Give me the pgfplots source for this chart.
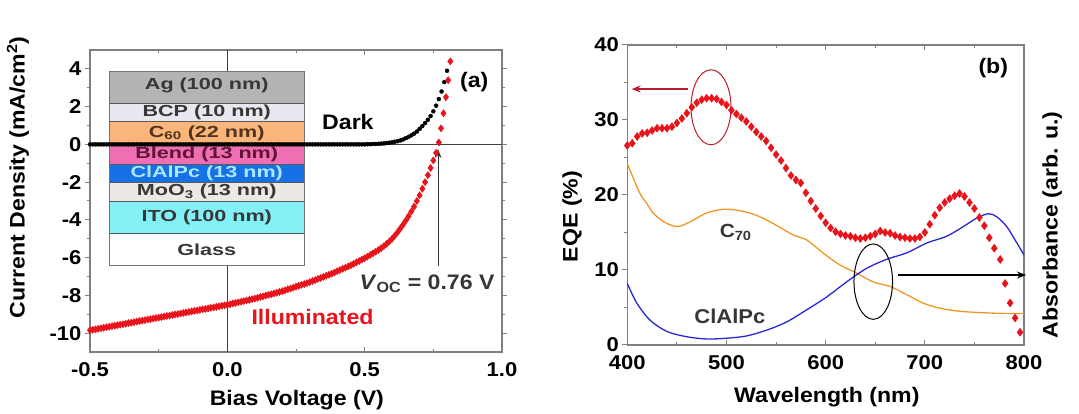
\documentclass[border=0pt]{standalone}
\usepackage{fontspec}
\setmainfont{Liberation Sans}[UprightFont=* Bold, ItalicFont=* Bold Italic, FakeStretch=1.1]
\newfontfamily\insetfont{Liberation Sans}[UprightFont=* Bold, FakeStretch=1.35]
\usepackage{pgfplots}
\pgfplotsset{compat=1.18}
\usetikzlibrary{arrows.meta}
\definecolor{axgray}{RGB}{128,128,128}
\definecolor{eqered}{RGB}{232,20,28}
\definecolor{c70}{RGB}{240,150,40}
\definecolor{clblue}{RGB}{40,40,210}
\definecolor{ellred}{RGB}{185,30,45}
\definecolor{agc}{RGB}{180,180,180}
\definecolor{bcpc}{RGB}{232,233,240}
\definecolor{c60c}{RGB}{250,182,122}
\definecolor{blendc}{RGB}{240,110,178}
\definecolor{pcc}{RGB}{22,112,230}
\definecolor{pctext}{RGB}{170,232,255}
\definecolor{mooc}{RGB}{236,233,229}
\definecolor{itoc}{RGB}{130,240,245}
\definecolor{txtgray}{RGB}{55,55,55}
\definecolor{c60txt}{RGB}{80,50,30}
\definecolor{blendtxt}{RGB}{95,20,55}
\pgfplotsset{myax/.style={scale only axis, clip=false,
  axis line style={draw=axgray, line width=1.5pt},
  tick style={draw=axgray, line width=1pt},
  major tick length=5pt, minor tick length=3pt,
  tick label style={font=\fontsize{20}{23}\selectfont, text=black},
  label style={font=\fontsize{21}{25}\selectfont},
  /pgf/number format/assume math mode=true,
  minor tick num=1}}
\begin{document}
\begin{tikzpicture}[x=1pt,y=1pt]
\useasboundingbox (0,0) rectangle (1079,414);
% ---------------- panel (a)
\begin{axis}[myax, at={(90pt,62pt)}, anchor=south west, width=412pt, height=302pt,
  xmin=-0.5, xmax=1.0, ymin=-11, ymax=5,
  xtick={-0.5,0,0.5,1.0}, ytick={-10,-8,-6,-4,-2,0,2,4},
  xticklabel style={yshift=-7pt, /pgf/number format/.cd, fixed, fixed zerofill, precision=1},
  xtick align=inside, ytick align=outside,
  xlabel={Bias Voltage (V)}, ylabel={Current Density (mA/cm\textsuperscript{2})},
  xlabel style={at={(axis description cs:0.502,-0.16)}, anchor=center},
  ylabel style={at={(axis description cs:-0.175,0.578)}, anchor=center, rotate=0}]
\draw[black!75, line width=0.9pt] (axis cs:-0.5,0) -- (axis cs:1.0,0);
\draw[black!75, line width=0.9pt] (axis cs:0,-11) -- (axis cs:0,5);
\addplot[only marks, mark=*, mark size=2pt, black] coordinates {
(-0.50,0)(-0.49,0)(-0.48,0)(-0.47,0)(-0.46,0)(-0.45,0)(-0.44,0)(-0.43,0)(-0.42,0)(-0.41,0)
(-0.40,0)(-0.39,0)(-0.38,0)(-0.37,0)(-0.36,0)(-0.35,0)(-0.34,0)(-0.33,0)(-0.32,0)(-0.31,0)
(-0.30,0)(-0.29,0)(-0.28,0)(-0.27,0)(-0.26,0)(-0.25,0)(-0.24,0)(-0.23,0)(-0.22,0)(-0.21,0)
(-0.20,0)(-0.19,0)(-0.18,0)(-0.17,0)(-0.16,0)(-0.15,0)(-0.14,0)(-0.13,0)(-0.12,0)(-0.11,0)
(-0.10,0)(-0.09,0)(-0.08,0)(-0.07,0)(-0.06,0)(-0.05,0)(-0.04,0)(-0.03,0)(-0.02,0)(-0.01,0)
(0.00,0)(0.01,0)(0.02,0)(0.03,0)(0.04,0)(0.05,0)(0.06,0)(0.07,0)(0.08,0)(0.09,0)
(0.10,0)(0.11,0)(0.12,0)(0.13,0)(0.14,0)(0.15,0)(0.16,0)(0.17,0)(0.18,0)(0.19,0)
(0.20,0)(0.21,0)(0.22,0)(0.23,0)(0.24,0)(0.25,0)(0.26,0)(0.27,0)(0.28,0)(0.29,0)
(0.30,0)(0.31,0)(0.32,0)(0.33,0)(0.34,0)(0.35,0)(0.36,0)(0.37,0)(0.38,0)(0.39,0)
(0.40,0)(0.41,0)(0.42,0)(0.43,0)(0.44,0)(0.45,0)(0.46,0)(0.47,0)(0.48,0)(0.49,0)
(0.50,0)(0.51,0.01)(0.52,0.01)(0.53,0.02)(0.54,0.02)(0.55,0.03)(0.56,0.04)(0.57,0.05)(0.58,0.07)(0.59,0.09)
(0.60,0.11)(0.61,0.14)(0.62,0.17)(0.63,0.21)(0.64,0.26)(0.65,0.33)(0.66,0.40)(0.67,0.48)(0.68,0.57)(0.69,0.68)
(0.70,0.82)(0.71,0.97)(0.72,1.13)(0.73,1.30)(0.74,1.50)(0.75,1.75)(0.76,2.05)(0.77,2.40)(0.78,2.80)(0.79,3.30)
(0.80,3.90)};
\addplot[only marks, mark=diamond*, mark size=3.6pt, eqered] coordinates {
(-0.50,-9.85)(-0.49,-9.82)(-0.48,-9.80)(-0.47,-9.77)(-0.46,-9.74)(-0.45,-9.72)(-0.44,-9.69)(-0.43,-9.66)(-0.42,-9.63)(-0.41,-9.61)
(-0.40,-9.58)(-0.39,-9.55)(-0.38,-9.53)(-0.37,-9.50)(-0.36,-9.47)(-0.35,-9.45)(-0.34,-9.42)(-0.33,-9.39)(-0.32,-9.36)(-0.31,-9.34)
(-0.30,-9.31)(-0.29,-9.28)(-0.28,-9.26)(-0.27,-9.23)(-0.26,-9.20)(-0.25,-9.18)(-0.24,-9.15)(-0.23,-9.12)(-0.22,-9.09)(-0.21,-9.07)
(-0.20,-9.04)(-0.19,-9.01)(-0.18,-8.99)(-0.17,-8.96)(-0.16,-8.93)(-0.15,-8.91)(-0.14,-8.88)(-0.13,-8.85)(-0.12,-8.82)(-0.11,-8.80)
(-0.10,-8.77)(-0.09,-8.74)(-0.08,-8.72)(-0.07,-8.69)(-0.06,-8.66)(-0.05,-8.64)(-0.04,-8.61)(-0.03,-8.58)(-0.02,-8.55)(-0.01,-8.53)
(0.00,-8.50)(0.01,-8.47)(0.02,-8.43)(0.03,-8.40)(0.04,-8.37)(0.05,-8.34)(0.06,-8.30)(0.07,-8.27)(0.08,-8.24)(0.09,-8.20)
(0.10,-8.17)(0.11,-8.13)(0.12,-8.09)(0.13,-8.05)(0.14,-8.01)(0.15,-7.97)(0.16,-7.94)(0.17,-7.90)(0.18,-7.86)(0.19,-7.82)
(0.20,-7.78)(0.21,-7.73)(0.22,-7.68)(0.23,-7.64)(0.24,-7.59)(0.25,-7.54)(0.26,-7.49)(0.27,-7.44)(0.28,-7.40)(0.29,-7.35)
(0.30,-7.30)(0.31,-7.24)(0.32,-7.19)(0.33,-7.13)(0.34,-7.08)(0.35,-7.02)(0.36,-6.96)(0.37,-6.91)(0.38,-6.85)(0.39,-6.79)
(0.40,-6.72)(0.41,-6.66)(0.42,-6.59)(0.43,-6.53)(0.44,-6.47)(0.45,-6.40)(0.46,-6.33)(0.47,-6.25)(0.48,-6.18)(0.49,-6.10)
(0.50,-6.03)(0.51,-5.95)(0.52,-5.86)(0.53,-5.77)(0.54,-5.69)(0.55,-5.60)(0.56,-5.50)(0.57,-5.39)(0.58,-5.27)(0.59,-5.14)
(0.60,-5.00)(0.61,-4.83)(0.62,-4.65)(0.63,-4.45)(0.64,-4.25)(0.65,-4.03)(0.66,-3.80)(0.67,-3.55)(0.68,-3.30)(0.69,-3.00)
(0.70,-2.70)(0.71,-2.35)(0.72,-2.00)(0.73,-1.63)(0.74,-1.25)(0.75,-0.85)(0.76,-0.45)
(0.770,0.10)(0.778,0.85)(0.787,1.65)(0.796,2.50)(0.804,3.40)(0.812,4.40)};
% device stack inset
\fill[agc]    (axis cs:-0.43,3.87)  rectangle (axis cs:0.28,2.18);
\fill[bcpc]   (axis cs:-0.43,2.18)  rectangle (axis cs:0.28,1.21);
\fill[c60c]   (axis cs:-0.43,1.21)  rectangle (axis cs:0.28,-0.05);
\fill[blendc] (axis cs:-0.43,-0.05) rectangle (axis cs:0.28,-1.06);
\fill[pcc]    (axis cs:-0.43,-1.06) rectangle (axis cs:0.28,-2.04);
\fill[mooc]   (axis cs:-0.43,-2.04) rectangle (axis cs:0.28,-3.02);
\fill[itoc]   (axis cs:-0.43,-3.02) rectangle (axis cs:0.28,-4.70);
\fill[white]  (axis cs:-0.43,-4.70) rectangle (axis cs:0.28,-6.42);
\draw[black!65, line width=0.8pt] (axis cs:-0.43,2.18) -- (axis cs:0.28,2.18);
\draw[black!65, line width=0.8pt] (axis cs:-0.43,1.21) -- (axis cs:0.28,1.21);
\draw[black!65, line width=0.8pt] (axis cs:-0.43,-0.05) -- (axis cs:0.28,-0.05);
\draw[black!65, line width=0.8pt] (axis cs:-0.43,-1.06) -- (axis cs:0.28,-1.06);
\draw[black!65, line width=0.8pt] (axis cs:-0.43,-2.04) -- (axis cs:0.28,-2.04);
\draw[black!65, line width=0.8pt] (axis cs:-0.43,-3.02) -- (axis cs:0.28,-3.02);
\draw[black!65, line width=0.8pt] (axis cs:-0.43,-4.70) -- (axis cs:0.28,-4.70);
\draw[black!55, line width=1.2pt] (axis cs:-0.43,3.87) rectangle (axis cs:0.28,-6.42);
\node[font=\insetfont\fontsize{16}{18}\selectfont, inner sep=0pt, text=txtgray] at (axis cs:-0.075,3.10) {Ag (100 nm)};
\node[font=\insetfont\fontsize{16}{18}\selectfont, inner sep=0pt, text=txtgray] at (axis cs:-0.075,1.70) {BCP (10 nm)};
\node[font=\insetfont\fontsize{16}{18}\selectfont, inner sep=0pt, text=c60txt] at (axis cs:-0.075,0.60) {C\textsubscript{60} (22 nm)};
\node[font=\insetfont\fontsize{16}{18}\selectfont, inner sep=0pt, text=blendtxt] at (axis cs:-0.075,-0.52) {Blend (13 nm)};
\node[font=\insetfont\fontsize{16}{18}\selectfont, inner sep=0pt, text=pctext] at (axis cs:-0.075,-1.52) {ClAlPc (13 nm)};
\node[font=\insetfont\fontsize{16}{18}\selectfont, inner sep=0pt, text=txtgray] at (axis cs:-0.075,-2.50) {MoO\textsubscript{3} (13 nm)};
\node[font=\insetfont\fontsize{16}{18}\selectfont, inner sep=0pt, text=txtgray] at (axis cs:-0.075,-3.86) {ITO (100 nm)};
\node[font=\insetfont\fontsize{16}{18}\selectfont, inner sep=0pt, text=txtgray] at (axis cs:-0.075,-5.56) {Glass};
\draw[black!80, line width=0.9pt, -{Stealth[length=9pt,width=7pt]}] (axis cs:0.767,-6.45) -- (axis cs:0.767,-0.25);
\node[font=\fontsize{21}{24}\selectfont] at (axis cs:0.899,3.28) {(a)};
\node[font=\fontsize{21}{24}\selectfont] at (axis cs:0.439,1.20) {Dark};
\node[font=\fontsize{21}{24}\selectfont, text=eqered] at (axis cs:0.31,-9.13) {Illuminated};
\node[font=\fontsize{21}{24}\selectfont, text=txtgray] at (axis cs:0.727,-7.40) {\textit{V}\textsubscript{OC} = 0.76 V};
\end{axis}
% ---------------- panel (b)
\begin{axis}[myax, at={(627.3pt,69pt)}, anchor=south west, width=396.7pt, height=300pt,
  xmin=400, xmax=800, ymin=0, ymax=40,
  xtick={400,500,600,700,800}, ytick={0,10,20,30,40},
  xticklabel style={yshift=-7pt},
  xtick align=inside, ytick align=outside, ytick pos=left,
  xlabel={Wavelength (nm)}, ylabel={EQE (\%)},
  xlabel style={at={(axis description cs:0.503,-0.175)}, anchor=center},
  ylabel style={at={(axis description cs:-0.139,0.428)}, anchor=center}]
\addplot[c70, line width=1.3pt, smooth] coordinates {
(400,24.2)(405,22.6)(412.8,20.2)(420,18.8)(426,17.6)(433,16.8)(440,16.2)(451,15.8)(463,16.4)(480,17.6)
(497,18.1)(514,17.9)(530,17.3)(547,16.2)(567,14.7)(581,14.0)(598,12.2)(614,10.7)(631,9.6)(648,8.4)
(665,7.8)(682,6.7)(698,5.6)(715,4.9)(735,4.5)(759,4.3)(782,4.2)(800,4.2)};
\addplot[clblue, line width=1.3pt, smooth] coordinates {
(400,8.2)(409.5,5.6)(423,3.3)(440,1.8)(460,1.1)(480,0.8)(500,0.9)(520,1.2)(541,2.0)(561,3.1)
(581,4.7)(601,6.4)(621,8.4)(641,10.2)(661,11.4)(682,12.3)(702,13.6)(722,14.5)(739,15.8)(752,16.9)
(764,17.5)(772.5,17.1)(782.5,15.8)(791,14.0)(800,12.0)};
\addplot[only marks, mark=diamond*, mark size=4pt, eqered] coordinates {
(400,26.6)(405,26.9)(410,27.8)(415,28.2)(420,28.3)(425,28.6)(430,28.9)(435,28.9)(440,28.9)(445,29.1)
(450,29.6)(455,30.2)(460,30.9)(465,31.7)(470,32.3)(475,32.7)(480,32.9)(485,32.9)(490,32.8)(495,32.4)
(500,32.0)(505,31.3)(510,30.8)(515,30.3)(520,29.8)(525,29.1)(530,28.4)(535,27.8)(540,27.2)(545,26.3)
(550,25.4)(555,24.6)(560,23.6)(565,22.6)(570,22.0)(575,21.6)(580,20.3)(585,19.2)(590,18.2)(595,17.2)
(600,16.3)(605,15.6)(610,15.1)(615,14.8)(620,14.6)(625,14.5)(630,14.3)(635,14.2)(640,14.3)(645,14.5)
(650,14.8)(655,15.2)(660,15.0)(665,14.9)(670,14.6)(675,14.4)(680,14.3)(685,14.2)(690,14.2)(695,14.4)
(700,15.0)(705,16.1)(710,17.3)(715,18.3)(720,19.0)(725,19.5)(730,19.9)(735,20.2)(740,19.8)(745,19.0)
(750,18.2)(755,17.0)(760,15.9)(765,14.3)(770,12.9)(776,11.4)(781,8.2)(786,5.6)(791,3.6)(796,1.7)};
\draw[ellred, line width=1pt] (axis cs:484.4,31.7) ellipse [x radius=20pt, y radius=37.5pt];
\draw[ellred, line width=1.2pt, -{Stealth[length=9pt,width=7pt]}] (axis cs:461.5,34.13) -- (axis cs:404.4,34.13);
\draw[black, line width=1pt] (axis cs:648,8.45) ellipse [x radius=19.3pt, y radius=37.7pt];
\draw[black, line width=1.2pt, -{Stealth[length=9pt,width=7pt]}] (axis cs:673.2,9.33) -- (axis cs:802,9.33);
\node[font=\fontsize{21}{24}\selectfont] at (axis cs:769,36.9) {(b)};
\node[font=\fontsize{19}{22}\selectfont, text=txtgray] at (axis cs:509.3,15.0) {C\textsubscript{70}};
\node[font=\fontsize{20}{24}\selectfont, text=txtgray] at (axis cs:503.5,3.8) {ClAlPc};
\node[font=\fontsize{21}{25}\selectfont, rotate=90] at (axis description cs:1.071,0.40) {Absorbance (arb. u.)};
\end{axis}
\end{tikzpicture}
\end{document}
